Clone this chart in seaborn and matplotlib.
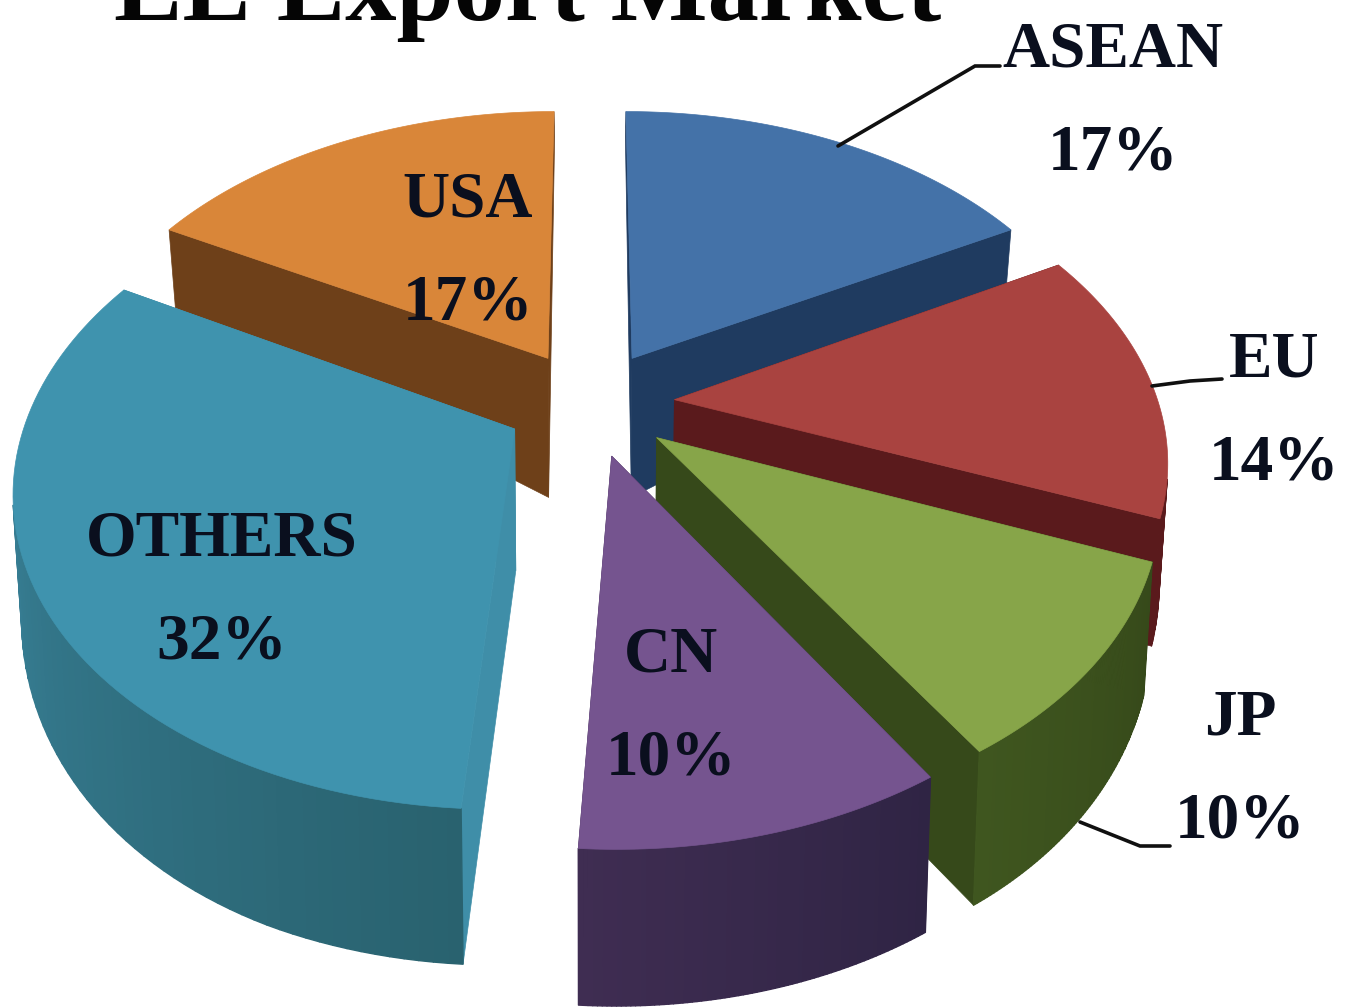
import numpy as np
import matplotlib
matplotlib.use("Agg")
import matplotlib.pyplot as plt
from matplotlib.collections import PolyCollection
from matplotlib.colors import to_rgb
import seaborn as sns

# Market shares, clockwise from twelve o'clock
markets = ["ASEAN", "EU", "JP", "CN", "OTHERS", "USA"]
shares = [17, 14, 10, 10, 32, 17]
title = "EE Export Market"

top_colors = ["#4472a8", "#a94340", "#87a549", "#75548f", "#3f93ae", "#d98639"]
rim_light = ["#1f3b60", "#5a1a1c", "#3f561f", "#3f2d52", "#3e8ca6", "#6e4019"]
rim_dark = ["#1f3b60", "#5a1a1c", "#36491a", "#2f2444", "#29626f", "#6e4019"]
face_colors = ["#1f3b60", "#5a1a1c", "#36491a", "#3e2c50", "#3f8ea8", "#6e4019"]

# Back slices are painted before front ones
paint_order = ["USA", "ASEAN", "EU", "JP", "OTHERS", "CN"]

# Label anchor (centre of the two-line block) and leader polylines
label_pos = {"ASEAN": (1113, 102), "EU": (1274, 412), "JP": (1240, 770),
             "CN": (671, 707), "OTHERS": (222, 591), "USA": (468, 252)}
leaders = {"ASEAN": [(838, 146), (975, 66), (1000, 66)],
           "EU": [(1152, 386), (1190, 381), (1222, 379)],
           "JP": [(1080, 822), (1140, 846), (1170, 846)]}

# Perspective of the pie plane
CX, CY = 590, 403
SCALE_X, SCALE_Y, TILT = 484, 304, 0.174
EXPLODE = 0.175


def project(x, y):
    w = 1 + TILT * y
    return CX + SCALE_X * x / w, CY - SCALE_Y * y / w


def lower(x, y):
    """Screen position of the pie's underside below plane point (x, y)."""
    sx, sy = project(x, y)
    side_loss = 30 * np.abs(x) * np.clip(1 + y, 0, 1)
    thickness = 145 - 10 * y - side_loss - 80 * np.maximum(y, 0) ** 2
    return CX + (sx - CX) * 0.985, sy + thickness


def mix(a, b, t):
    a, b = np.array(to_rgb(a)), np.array(to_rgb(b))
    return tuple(a + (b - a) * t)


sns.set_theme(style="white")
plt.rcParams["font.family"] = ["Liberation Serif", "DejaVu Serif"]

fig = plt.figure(figsize=(13.49, 10.07), dpi=100)
ax = fig.add_axes([0, 0, 1, 1])
ax.set_xlim(0, 1349)
ax.set_ylim(1007, 0)
ax.axis("off")

edges = np.cumsum([0] + shares) / sum(shares) * 2 * np.pi
spans = {m: (edges[i], edges[i + 1]) for i, m in enumerate(markets)}

for market in paint_order:
    i = markets.index(market)
    t0, t1 = spans[market]
    mid = (t0 + t1) / 2
    ox, oy = EXPLODE * np.sin(mid), EXPLODE * np.cos(mid)
    th = np.linspace(t0, t1, 80)
    rx, ry = ox + np.sin(th), oy + np.cos(th)

    ux, uy = project(rx, ry)
    lx, ly = lower(rx, ry)
    apex_u = project(ox, oy)
    apex_l = lower(ox, oy)

    # Flat cut faces
    for k in (0, -1):
        ax.fill([apex_u[0], ux[k], lx[k], apex_l[0]],
                [apex_u[1], uy[k], ly[k], apex_l[1]],
                color=face_colors[i], lw=0.5, zorder=1 + paint_order.index(market))

    # Curved outer wall, shaded along its sweep
    quads, shades = [], []
    for j in range(len(th) - 1):
        d1 = (ux[j + 1] - ux[j], uy[j + 1] - uy[j])
        d2 = (lx[j] - ux[j], ly[j] - uy[j])
        if d1[0] * d2[1] - d1[1] * d2[0] < 0:
            quads.append([(ux[j], uy[j]), (ux[j + 1], uy[j + 1]),
                          (lx[j + 1], ly[j + 1]), (lx[j], ly[j])])
            shades.append(mix(rim_dark[i], rim_light[i], j / (len(th) - 2)))
    if quads:
        ax.add_collection(PolyCollection(quads, facecolors=shades, edgecolors=shades,
                                         linewidths=1.0,
                                         zorder=1 + paint_order.index(market)))

    # Top surface
    ax.fill(np.r_[apex_u[0], ux], np.r_[apex_u[1], uy], color=top_colors[i], lw=0.5,
            zorder=1 + paint_order.index(market))

for points in leaders.values():
    xs, ys = zip(*points)
    ax.plot(xs, ys, color="#101010", lw=2.6, zorder=20, solid_joinstyle="miter")

for market, share in zip(markets, shares):
    x, y = label_pos[market]
    ax.text(x, y, f"{market}\n{share}%", ha="center", va="center", ma="center",
            fontsize=47, fontweight="bold", color="#0a0f1e", linespacing=1.95, zorder=30)

ax.text(528, 20, title, ha="center", va="baseline", fontsize=74, fontweight="bold",
        color="#050505", zorder=30)

fig.savefig("out.png", dpi=100)
